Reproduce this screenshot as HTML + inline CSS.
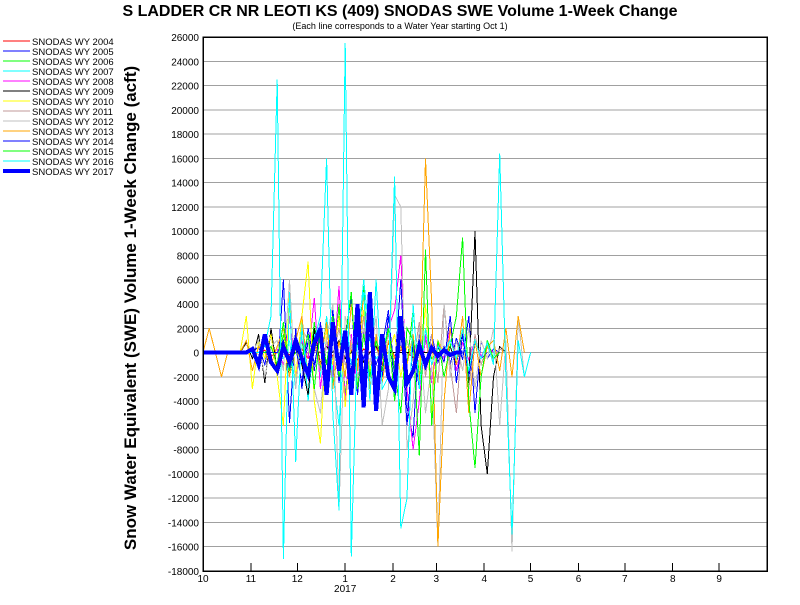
<!DOCTYPE html>
<html><head><meta charset="utf-8"><style>
body{margin:0;background:#fff;width:800px;height:600px;overflow:hidden;font-family:"Liberation Sans",sans-serif}
</style></head><body>
<svg id="chart" width="800" height="600" xmlns="http://www.w3.org/2000/svg" style="font-family:'Liberation Sans',sans-serif">
<text x="400" y="16" text-anchor="middle" font-size="16" font-weight="bold">S LADDER CR NR LEOTI KS (409) SNODAS SWE Volume 1-Week Change</text>
<text x="400" y="29" text-anchor="middle" font-size="9">(Each line corresponds to a Water Year starting Oct 1)</text>
<text transform="translate(136,308) rotate(-90)" text-anchor="middle" font-size="17" font-weight="bold">Snow Water Equivalent (SWE) Volume 1-Week Change (acft)</text>
<g id="grid" shape-rendering="crispEdges"></g><g id="series" shape-rendering="crispEdges"></g><g id="axes"></g><g id="legend" shape-rendering="crispEdges"></g>
</svg>
<script>
const yTicks=[26000,24000,22000,20000,18000,16000,14000,12000,10000,8000,6000,4000,2000,0,-2000,-4000,-6000,-8000,-10000,-12000,-14000,-16000,-18000];
const monthLabels=["10","11","12","1","2","3","4","5","6","7","8","9"];
const monthDays=[0,31,61,92,123,151,182,212,243,273,304,334];
const seriesNames=["SNODAS WY 2004","SNODAS WY 2005","SNODAS WY 2006","SNODAS WY 2007","SNODAS WY 2008","SNODAS WY 2009","SNODAS WY 2010","SNODAS WY 2011","SNODAS WY 2012","SNODAS WY 2013","SNODAS WY 2014","SNODAS WY 2015","SNODAS WY 2016","SNODAS WY 2017"];
const seriesColors=["#ff0000","#0000ff","#00ff00","#00ffff","#ff00ff","#000000","#ffff00","#c09898","#c0c0c0","#ffa500","#0000ff","#00ff00","#00ffff","#0000ff"];
const stepDays=4;
const wy2004=[0,0,0,0,0,0,0,0,0,0,200,-300,0,400,-200,0,300,-500,200,0,500,-300,800,-400,200,-600,300,0,500,-1000,800,-300,200,0,-400,300,0,0,0,0,0];
const wy2005=[0,0,0,0,0,0,0,0,0,500,-1000,1500,-2000,6000,-5800,2000,-3000,1000,-1500,2500,-2000,3000,-2500,1500,4500,-3500,2000,-3000,1500,-2000,3000,-1500,6000,-4500,-7000,2000,-1000,1500,-800,500,-1000,1200,-600,3000,-5000,1000,-500,300,0];
const wy2006=[0,0,0,0,0,0,0,0,0,0,0,500,-1000,1500,-800,0,1000,-2000,2500,-1500,3000,-2500,4000,-3500,1000,-2000,5500,-3000,1000,-1500,2000,-4000,1500,-1000,3500,-2000,1000,-500,0];
const wy2007=[0,0,0,0,0,0,0,0,0,0,0,0,0,-500,1000,-3000,2500,-4000,1500,-2000,3000,-1500,-6000,2000,-1000,500,6000,1000,-500,0,2000,-1500,500,0,0];
const wy2008=[0,0,0,0,0,0,0,0,0,0,0,0,300,-1000,3000,-2000,1000,-500,4500,-3000,1000,-2000,5500,-4000,1500,-3000,2000,-1500,1000,-500,2000,3500,8000,-3000,-8000,-4000,1500,-2500,1000,-500,2000,-1500,800,-600,1000,-300,500,0];
const wy2009=[0,0,0,0,0,0,0,800,-500,1500,-2500,2000,-1500,1000,-2000,500,-1000,-3500,2000,-1000,500,0,1000,-500,0,800,-800,0,500,-300,0,0,0,0,0,0,0,0,0,0,500,-1000,2000,-2500,10000,-6000,-10000,-2000,500,0];
const wy2010=[0,0,0,0,0,0,0,3000,-3000,1000,-500,1500,-2000,-6000,5000,-2000,3000,7500,-4000,-7500,2000,-1000,3000,-4500,1000,-2000,3500,-1500,1000,-500,0,1500,-2000,500,0,-2000,4000,-5000,1000,0];
const wy2011=[0,0,0,0,0,0,0,0,0,0,0,0,0,500,-800,1000,-500,0,800,-1500,1000,-500,2000,-1000,500,-1500,3000,-2000,1000,-500,1500,-1000,500,1000,-800,2500,-2000,1500,-2500,4000,-1000,-5000,2000,-3000,1500,-1000,500,-600,300,0];
const wy2012=[0,0,0,0,0,0,0,0,0,1000,-2000,500,1000,-1500,6000,-3000,2000,1000,-3000,-5000,1000,4000,-13000,3000,1000,-2000,2000,-1000,3000,-6000,-3000,13000,12000,-8000,-4000,2000,-5000,-1000,-16000,4000,-2000,1000,-1500,2000,-3000,1000,-500,2000,-6000,1000,-16400,3000,-2000,0];
const wy2013=[0,2000,0,-2000,0,0,0,1000,-1500,500,0,-1000,500,2000,-2000,1000,3000,-2000,1000,-1000,2500,-3000,1000,-2000,4000,-1500,5000,-3000,1500,-2500,1000,-500,500,-1000,1500,-3000,16000,4000,-16000,-4000,2000,-1000,3000,-5000,1000,-2000,500,1000,-1500,2000,-2000,3000,0];
const wy2014=[0,0,0,0,0,0,0,0,0,0,0,0,0,1000,-1500,500,-2500,2000,-1000,1500,-3000,3500,-1000,500,-2000,1000,-500,1500,-1000,500,3500,-3000,2500,-6000,1000,-3000,2000,-1000,500,-800,3000,-2500,1500,-2000,1000,-500,0];
const wy2015=[0,0,0,0,0,0,0,0,0,0,0,500,-1000,2500,-1500,1000,-500,1500,-3000,2000,-1000,3000,-2000,1000,5000,-3000,1500,-2000,1000,-500,2000,-1500,-5000,2000,1000,-8500,8500,-6000,1000,-2000,500,3000,9500,-4000,-9500,-2000,1000,-500,0];
const wy2016=[0,0,0,0,0,0,0,0,0,0,500,3000,22500,-17000,5000,-9000,2000,-2000,1000,3000,16000,-5000,-13000,25500,-16800,2000,5000,-4000,6000,-3000,-2000,14500,-14500,-12000,4000,-3000,2000,-1000,500,0,1000,-500,2000,-1500,1000,-500,800,-1000,16400,-2000,-15000,1000,-2000,0];
const wy2017=[0,0,0,0,0,0,0,0,300,-1000,1500,-800,-1500,500,-800,1000,-500,-1800,800,2000,-3500,2500,-1500,1800,-3500,4000,-4500,5000,-4800,1500,-2000,-3000,3000,-2500,-1500,600,-1000,400,-300,200,-200,0,0];
const seriesData=[wy2004,wy2005,wy2006,wy2007,wy2008,wy2009,wy2010,wy2011,wy2012,wy2013,wy2014,wy2015,wy2016,wy2017];

const NS="http://www.w3.org/2000/svg";
const L=203,R=767,T=37,B=571,yMax=26000,yMin=-18000;
const xS=d=>L+d*(R-L)/365;
const yS=v=>T+(yMax-v)*(B-T)/(yMax-yMin);
function mk(tag,attrs,parent,txt){const e=document.createElementNS(NS,tag);for(const k in attrs)e.setAttribute(k,attrs[k]);if(txt!==undefined)e.textContent=txt;parent.appendChild(e);return e;}
const grid=document.getElementById('grid'),axes=document.getElementById('axes'),ser=document.getElementById('series'),leg=document.getElementById('legend');
yTicks.forEach(v=>{
  const g=mk('line',{x1:L,x2:R,y1:yS(v),y2:yS(v),stroke:'#a0a0a0','stroke-width':1},grid);
  
  
  const t=mk('text',{x:L-4,y:yS(v)+4,'text-anchor':'end','font-size':10},axes,String(v));
  
  
});
monthDays.forEach((d,i)=>{
  const x=xS(d);
  const tk=mk('line',{x1:x,x2:x,y1:B,y2:B-8,stroke:'#000','shape-rendering':'crispEdges'},axes);
  
  
  const t=mk('text',{x:x,y:B+11,'text-anchor':'middle','font-size':10},axes,monthLabels[i]);
  
  
});
const yr=mk('text',{x:xS(92),y:B+21,'text-anchor':'middle','font-size':10},axes,'2017');


seriesData.forEach((arr,si)=>{
  let pts=[];
  arr.forEach((v,i)=>{pts.push(xS(i*stepDays).toFixed(1)+','+yS(v).toFixed(1));});
  const p=mk('polyline',{points:pts.join(' '),fill:'none',stroke:seriesColors[si],'stroke-width':si===13?4:1},ser);
  
  
});
const fr=mk('rect',{x:L,y:T,width:R-L,height:B-T,fill:'none',stroke:'#000','stroke-width':1.5,'shape-rendering':'crispEdges'},axes);


seriesNames.forEach((n,i)=>{
  const y=41+i*10;
  const g=mk('g',{},leg);
  
  
  mk('line',{x1:3,x2:30,y1:y,y2:y,stroke:seriesColors[i],'stroke-width':i===13?4:1},g);
  mk('text',{x:32,y:y+4,'font-size':9.5},g,n);
});
</script>
</body></html>
